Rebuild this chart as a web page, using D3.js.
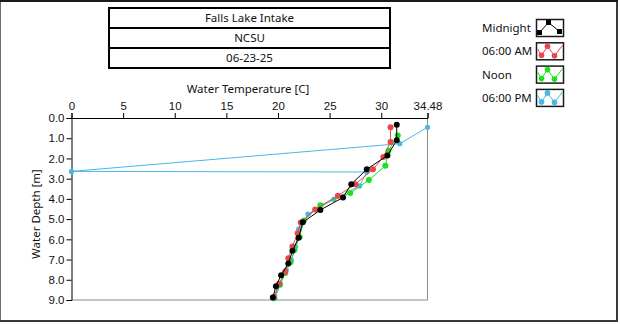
<!DOCTYPE html>
<html>
<head>
<meta charset="utf-8">
<script src="https://cdn.jsdelivr.net/npm/d3@7"></script>
<style>
  html, body { margin: 0; padding: 0; background: #fff; }
  svg { display: block; font-family: "Noto Sans", "Open Sans", sans-serif; }
</style>
</head>
<body>
<svg id="chart" width="620" height="324"></svg>
<script>
// Header rows
const titleLines = ["Falls Lake Intake", "NCSU", "06-23-25"];

// Series names and colours
const seriesNames = ["Midnight", "06:00 AM", "Noon", "06:00 PM"];
const seriesColors = ["#000000", "#e8474a", "#1ee01e", "#4cb6e6"];

// Profiles: depth [m] and water temperature [C]
const midnightDepth = [0.33, 1.10, 1.85, 2.54, 3.27, 3.93, 4.55, 5.16, 5.92, 6.57, 7.19, 7.77, 8.32, 8.88];
const midnightTemp  = [31.5, 31.5, 30.6, 28.6, 27.1, 26.3, 24.1, 22.4, 22.0, 21.4, 21.0, 20.3, 19.8, 19.5];

const amDepth = [0.46, 1.19, 1.93, 2.54, 3.27, 3.84, 4.52, 5.17, 5.70, 6.35, 6.93, 7.60, 8.20, 8.85];
const amTemp  = [30.9, 30.9, 30.2, 29.2, 27.5, 25.8, 23.6, 22.2, 21.9, 21.4, 21.0, 20.7, 20.1, 19.6];

const noonDepth = [0.86, 1.62, 2.36, 3.07, 3.71, 4.31, 5.07, 5.88, 6.53, 7.13, 7.67, 8.22, 8.91];
const noonTemp  = [31.6, 30.7, 30.4, 28.8, 27.0, 24.1, 22.5, 22.1, 21.6, 21.2, 20.7, 20.2, 19.6];

const pmDepth = [0.46, 1.27, 2.64, 2.67, 3.36, 4.02, 4.75, 5.50, 6.37, 7.03, 7.52, 8.27, 8.93];
const pmTemp  = [34.48, 31.8, 0.0, 28.6, 27.9, 25.4, 22.9, 22.0, 21.7, 21.3, 20.8, 20.2, 19.7];

// Axis ticks
const tempTicks = [0, 5, 10, 15, 20, 25, 30, 34.48];
const depthTicks = [0, 1, 2, 3, 4, 5, 6, 7, 8, 9];

const profiles = [
  { name: seriesNames[0], color: seriesColors[0], depth: midnightDepth, temp: midnightTemp },
  { name: seriesNames[1], color: seriesColors[1], depth: amDepth, temp: amTemp },
  { name: seriesNames[2], color: seriesColors[2], depth: noonDepth, temp: noonTemp },
  { name: seriesNames[3], color: seriesColors[3], depth: pmDepth, temp: pmTemp }
];

const FS = 11.5;
const svg = d3.select("#chart");

// Outer panel frame
svg.append("rect").attr("x", 0.5).attr("y", 0.5).attr("width", 616).attr("height", 320)
  .attr("fill", "none").attr("stroke", "#6e6e6e").attr("stroke-width", 1);
svg.append("line").attr("x1", 617).attr("x2", 617).attr("y1", 0).attr("y2", 322)
  .attr("stroke", "#3a3a3a").attr("stroke-width", 2);
svg.append("line").attr("x1", 0).attr("x2", 618).attr("y1", 321).attr("y2", 321)
  .attr("stroke", "#3a3a3a").attr("stroke-width", 2);
svg.append("line").attr("x1", 0).attr("x2", 618).attr("y1", 1).attr("y2", 1)
  .attr("stroke", "#1a1a1a").attr("stroke-width", 2);

// Header table
const tb = { x: 109, y: 8, w: 281, rowH: 20 };
const header = svg.append("g");
titleLines.forEach((t, i) => {
  header.append("rect")
    .attr("x", tb.x).attr("y", tb.y + i * tb.rowH)
    .attr("width", tb.w).attr("height", tb.rowH)
    .attr("fill", "#fff").attr("stroke", "#000").attr("stroke-width", 2);
  header.append("text")
    .attr("x", tb.x + tb.w / 2).attr("y", tb.y + i * tb.rowH + tb.rowH / 2)
    .attr("dy", "0.35em").attr("text-anchor", "middle")
    .attr("font-size", FS).attr("fill", "#111").text(t);
});

// Scales
const x = d3.scaleLinear().domain([0, 34.48]).range([71.5, 427.5]);
const y = d3.scaleLinear().domain([0, 9]).range([118, 300]);

// Plot edges (right/bottom in grey)
svg.append("line").attr("x1", x(34.48)).attr("x2", x(34.48)).attr("y1", y(0)).attr("y2", y(9))
  .attr("stroke", "#8c8c8c").attr("stroke-width", 1);
svg.append("line").attr("x1", x(0)).attr("x2", x(34.48)).attr("y1", y(9)).attr("y2", y(9))
  .attr("stroke", "#8c8c8c").attr("stroke-width", 1);

// Top axis: temperature
const xAxis = d3.axisTop(x).tickValues(tempTicks).tickSize(5).tickPadding(3)
  .tickFormat(d => d === 34.48 ? "34.48" : d3.format("d")(d));
const gx = svg.append("g").attr("transform", `translate(0,${y(0)})`).call(xAxis);
gx.selectAll("text").attr("font-size", FS).attr("fill", "#111").attr("font-family", null);
gx.selectAll("line").attr("stroke", "#000");
gx.select(".domain").attr("stroke", "#000");

// Left axis: depth
const yAxis = d3.axisLeft(y).tickValues(depthTicks).tickSize(5).tickPadding(2)
  .tickFormat(d3.format(".1f"));
const gy = svg.append("g").attr("transform", `translate(${x(0)},0)`).call(yAxis);
gy.selectAll("text").attr("font-size", FS).attr("fill", "#111").attr("font-family", null);
gy.selectAll("line").attr("stroke", "#000");
gy.select(".domain").attr("stroke", "#000");

// Axis titles
svg.append("text").attr("x", 248).attr("y", 93).attr("text-anchor", "middle")
  .attr("font-size", FS).attr("fill", "#111").text("Water Temperature [C]");
svg.append("text").attr("transform", "translate(40,214) rotate(-90)")
  .attr("text-anchor", "middle").attr("font-size", FS).attr("fill", "#111")
  .text("Water Depth [m]");

// Profiles, drawn back to front so midnight sits on top
const line = d3.line().x(d => x(d.t)).y(d => y(d.d));
const plot = svg.append("g");
[3, 2, 1, 0].forEach(i => {
  const p = profiles[i];
  const pts = p.depth.map((d, k) => ({ d: d, t: p.temp[k] }));
  plot.append("path").datum(pts).attr("d", line)
    .attr("fill", "none").attr("stroke", p.color).attr("stroke-width", 1);
  plot.selectAll(null).data(pts).enter().append("circle")
    .attr("cx", d => x(d.t)).attr("cy", d => y(d.d)).attr("r", i === 3 ? 2.6 : 3)
    .attr("fill", p.color);
});

// Legend
const legend = svg.append("g");
const lg = { textX: 482, boxX: 536.5, boxY: 19.5, step: 23.3, w: 27, h: 17 };
profiles.forEach((p, i) => {
  const by = lg.boxY + i * lg.step;
  legend.append("text").attr("x", lg.textX).attr("y", by + lg.h / 2).attr("dy", "0.35em")
    .attr("font-size", FS).attr("fill", "#111").text(p.name);
  legend.append("rect").attr("x", lg.boxX).attr("y", by).attr("width", lg.w).attr("height", lg.h)
    .attr("fill", "#fff").attr("stroke", "#1a1a1a").attr("stroke-width", 1.5);
  let icon, marks;
  if (i === 0) {
    icon = [[3, 13], [12, 3], [23, 12]];
    marks = icon;
  } else {
    icon = [[1, 6], [5, 12.5], [11, 3.5], [18, 13], [26, 2.5]];
    marks = [[5, 12.5], [11, 3.5], [18, 13]];
  }
  legend.append("path")
    .attr("d", d3.line()(icon.map(q => [lg.boxX + q[0], by + q[1]])))
    .attr("fill", "none").attr("stroke", p.color).attr("stroke-width", 1);
  marks.forEach(q => {
    if (i === 0) {
      legend.append("rect").attr("x", lg.boxX + q[0] - 2.5).attr("y", by + q[1] - 2.5)
        .attr("width", 5).attr("height", 5).attr("fill", p.color);
    } else {
      legend.append("circle").attr("cx", lg.boxX + q[0]).attr("cy", by + q[1]).attr("r", 2.8)
        .attr("fill", p.color);
    }
  });
});
</script>
</body>
</html>
